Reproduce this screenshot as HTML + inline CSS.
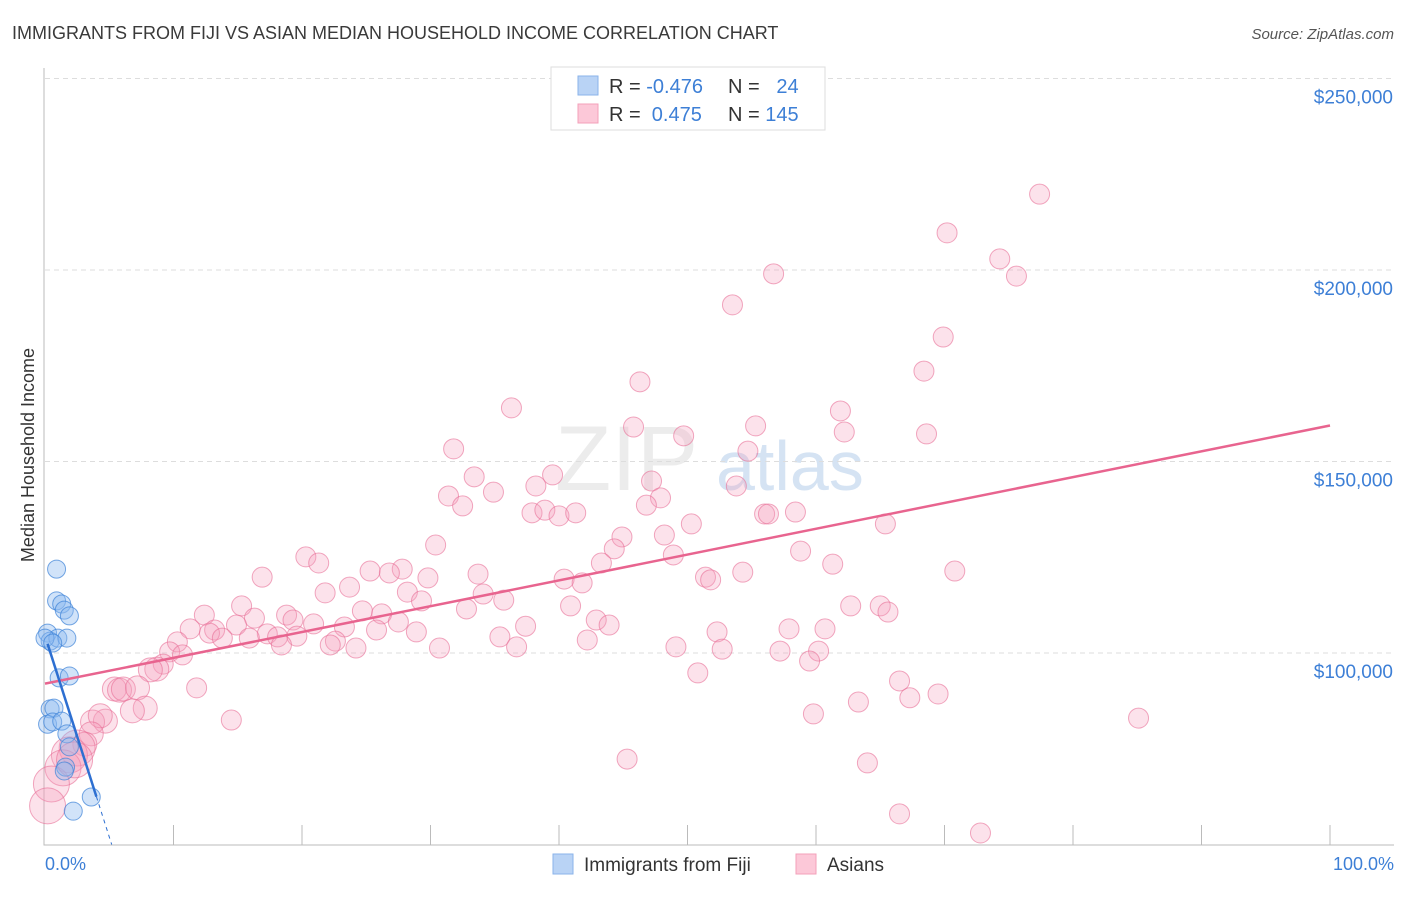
<!DOCTYPE html>
<html><head><meta charset="utf-8"><style>
body{margin:0;background:#fff;font-family:"Liberation Sans",sans-serif;}
svg text{font-family:"Liberation Sans",sans-serif;}
</style></head><body>
<svg id="chart" width="1406" height="892">
<text x="12" y="39" font-size="18" fill="#3a3a3a">IMMIGRANTS FROM FIJI VS ASIAN MEDIAN HOUSEHOLD INCOME CORRELATION CHART</text>
<text x="1394" y="39" font-size="15" font-style="italic" fill="#555" text-anchor="end">Source: ZipAtlas.com</text>
<g><text x="555" y="490" font-size="92" font-family="Liberation Serif" fill="#ececec">ZIP</text><text x="716" y="490" font-size="70" fill="#d5e3f3">atlas</text></g>
<g id="grid"></g><g id="axes"></g><g id="marks"></g>
<text transform="translate(34,455) rotate(-90)" font-size="18" fill="#333" text-anchor="middle">Median Household Income</text>
<text x="45" y="870" font-size="18" fill="#3d7fd6">0.0%</text>
<text x="1394" y="870" font-size="18" fill="#3d7fd6" text-anchor="end">100.0%</text>
<g>
<rect x="551" y="67" width="274" height="63" fill="#fff" stroke="#ddd"/>
<rect x="578" y="76" width="20" height="19" fill="#b9d3f5" stroke="#8ab3ea"/>
<rect x="578" y="104" width="20" height="19" fill="#fcc8d8" stroke="#f3a0ba"/>
<text x="609" y="93" font-size="20" fill="#333">R = <tspan fill="#3d7fd6">-0.476</tspan></text>
<text x="728" y="93" font-size="20" fill="#333">N = <tspan fill="#3d7fd6">&#160; 24</tspan></text>
<text x="609" y="121" font-size="20" fill="#333">R = <tspan fill="#3d7fd6">&#160;0.475</tspan></text>
<text x="728" y="121" font-size="20" fill="#333">N = <tspan fill="#3d7fd6">145</tspan></text>
</g>
<g>
<rect x="553" y="854" width="20" height="20" fill="#b9d3f5" stroke="#8ab3ea"/>
<text x="584" y="871" font-size="19" fill="#333">Immigrants from Fiji</text>
<rect x="796" y="854" width="20" height="20" fill="#fcc8d8" stroke="#f3a0ba"/>
<text x="827" y="871" font-size="19" fill="#333">Asians</text>
</g>
</svg>
<script>
const yTicks=[100000,150000,200000,250000];
const yTickLabels=["$100,000","$150,000","$200,000","$250,000"];
const fijiX=[0.9,0.9,1.3,1.5,1.9,0.2,0.4,1.0,1.7,1.1,1.9,0.4,0.7,0.2,0.6,1.3,1.7,1.9,1.6,1.5,3.6,2.2,0.0,0.6];
const fijiY=[121.9,113.6,112.8,111.2,109.7,105.2,103.1,103.9,103.9,93.5,94.0,85.4,85.6,81.4,82.0,82.2,78.9,75.5,70.2,69.2,62.4,58.7,103.9,102.6];
const asianX=[77.4,70.2,74.3,75.6,56.7,53.5,69.9,68.4,46.3,36.3,61.9,55.3,45.8,62.2,49.7,68.6,31.8,54.7,33.4,39.5,47.2,53.8,38.2,34.9,31.4,47.9,32.5,46.8,37.9,38.9,40.0,41.3,56.0,56.3,58.4,50.3,65.4,48.2,44.9,30.4,44.3,58.8,20.3,48.9,21.3,43.3,27.8,25.3,26.8,61.3,70.8,54.3,33.7,16.9,29.8,40.4,51.4,51.8,41.8,23.7,21.8,28.2,34.1,29.3,35.7,15.3,40.9,62.7,65.0,65.6,32.8,24.7,26.2,12.4,18.8,16.3,19.3,27.5,20.9,42.9,43.9,37.4,14.9,23.3,11.3,13.2,12.8,25.8,57.9,60.7,52.3,28.9,17.3,18.1,19.6,15.9,13.8,35.4,10.3,22.6,22.2,18.4,42.2,36.7,24.2,30.7,49.1,52.7,57.2,60.2,9.7,10.7,9.2,8.7,8.2,59.5,50.8,66.5,11.8,5.4,5.8,6.1,7.2,67.3,69.5,63.3,7.8,6.8,59.8,85.1,14.5,4.7,3.7,4.3,3.6,3.1,2.5,1.9,1.4,45.3,64.0,0.5,0.2,66.5,72.8,2.3];
const asianY=[219.8,209.7,202.9,198.4,199.0,190.9,182.5,173.6,170.8,164.0,163.2,159.3,159.0,157.7,156.7,157.2,153.3,152.7,146.0,146.5,144.9,143.6,143.6,142.0,141.0,140.5,138.4,138.6,136.6,137.3,135.8,136.6,136.3,136.3,136.8,133.7,133.7,130.8,130.3,128.2,127.2,126.6,125.1,125.6,123.5,123.5,121.9,121.4,120.9,123.2,121.4,121.1,120.6,119.8,119.6,119.3,119.8,119.1,118.3,117.2,115.7,115.9,115.4,113.6,113.8,112.3,112.3,112.3,112.3,110.7,111.5,111.0,110.2,109.9,109.9,109.1,108.6,108.1,107.6,108.6,107.3,107.0,107.3,106.8,106.3,106.0,105.2,106.0,106.3,106.3,105.5,105.5,105.0,104.2,104.4,103.9,103.9,104.2,102.9,103.1,102.1,102.1,103.4,101.6,101.3,101.3,101.6,101.0,100.5,100.5,100.3,99.5,97.1,95.8,95.6,97.9,94.8,92.7,90.9,90.6,90.3,90.6,90.9,88.3,89.3,87.2,85.6,84.9,84.1,83.0,82.5,82.2,82.0,83.6,78.9,76.2,75.2,73.4,70.0,72.3,71.3,65.8,60.1,58.0,53.0,72.1];
const asianTrend=[92.0,159.4];
const fijiTrend=[104.5,-10.5];
const NS='http://www.w3.org/2000/svg';
const X=p=>45+p*12.85;
const Y=v=>653-(v-100)*191.5/50;
function mk(t,a,parent){const e=document.createElementNS(NS,t);for(const k in a)e.setAttribute(k,a[k]);parent.appendChild(e);return e;}
const grid=document.getElementById('grid'),axes=document.getElementById('axes'),marks=document.getElementById('marks');
yTicks.forEach((t,i)=>{const y=Y(t/1000);
const l=mk('line',{x1:45,x2:1394,y1:y,y2:y,stroke:'#ddd','stroke-dasharray':'5,4'},grid);


const tx=mk('text',{x:1393,y:y+25,'font-size':19,fill:'#3d7fd6','text-anchor':'end'},grid);tx.textContent=yTickLabels[i];

});
const ax=mk('path',{d:'M44,68V845H1394',fill:'none',stroke:'#bbb'},axes);


for(let i=1;i<=10;i++){const t=mk('line',{x1:X(i*10),x2:X(i*10),y1:825,y2:845,stroke:'#bbb'},axes);

}
asianX.forEach((p,i)=>{const r=p<3?18:(p<9?12:10);
const c=mk('circle',{cx:X(p),cy:Y(asianY[i]),r:r,fill:'rgba(245,160,188,0.3)',stroke:'rgba(232,110,150,0.6)','stroke-width':1},marks);

});
fijiX.forEach((p,i)=>{const c=mk('circle',{cx:X(p),cy:Y(fijiY[i]),r:9,fill:'rgba(140,185,240,0.4)',stroke:'rgba(60,130,215,0.7)','stroke-width':1},marks);

});
const at=mk('line',{x1:X(0),y1:Y(asianTrend[0]),x2:X(100),y2:Y(asianTrend[1]),stroke:'#e8648f','stroke-width':2.5},marks);


const xe=4,xd=(50-fijiTrend[0])/fijiTrend[1];
const ft=mk('line',{x1:X(0.2),y1:Y(fijiTrend[0]+fijiTrend[1]*0.2),x2:X(xe),y2:Y(fijiTrend[0]+fijiTrend[1]*xe),stroke:'#2d6fd1','stroke-width':2.5},marks);


const fd=mk('line',{x1:X(xe),y1:Y(fijiTrend[0]+fijiTrend[1]*xe),x2:X(xd),y2:Y(50),stroke:'#2d6fd1','stroke-width':1,'stroke-dasharray':'4,4'},marks);


</script>
</body></html>
